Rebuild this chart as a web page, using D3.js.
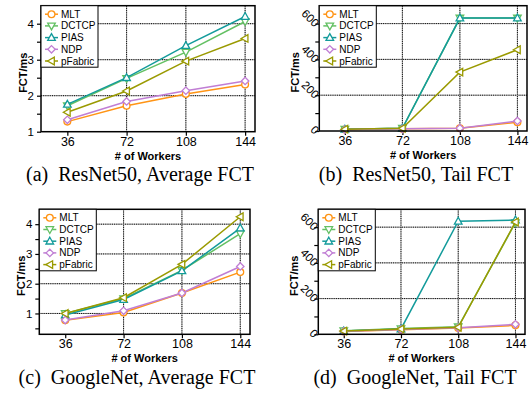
<!DOCTYPE html>
<html>
<head>
<meta charset="utf-8">
<script src="https://cdn.jsdelivr.net/npm/d3@7"></script>
<style>
  body { margin: 0; background: #fff; }
  svg { display: block; }
  .tick text { font-family: "Liberation Sans", Arial, sans-serif; }
</style>
</head>
<body>
<div id="chart"></div>
<script>
// x values shared by all four panels
const workers = [36, 72, 108, 144];
const methods = ["MLT", "DCTCP", "PIAS", "NDP", "pFabric"];
const colors = ["#ff9415", "#63c063", "#139b9b", "#c07ed4", "#9a9a00"];
const symbols = ["circle", "down", "up", "diamond", "left"];

// one row per method, same order as `methods`
const resnetAvg = [
  [1.28, 1.72, 2.05, 2.31],
  [1.72, 2.48, 3.21, 4.06],
  [1.76, 2.50, 3.39, 4.20],
  [1.33, 1.84, 2.14, 2.41],
  [1.54, 2.13, 2.96, 3.59]
];
const resnetTail = [
  [8, 12, 15, 49],
  [10, 15, 631, 631],
  [10, 15, 631, 631],
  [8, 12, 16, 56],
  [10, 15, 329, 454]
];
const googleAvg = [
  [0.77, 1.03, 1.69, 2.39],
  [1.00, 1.50, 2.45, 3.68],
  [0.95, 1.47, 2.43, 3.87],
  [0.78, 1.09, 1.69, 2.58],
  [1.00, 1.53, 2.65, 4.25]
];
const googleTail = [
  [16, 25, 35, 50],
  [20, 32, 42, 625],
  [18, 30, 633, 640],
  [17, 27, 36, 56],
  [18, 30, 39, 629]
];

const avgTicksA = [1, 2, 3, 4], avgMinorA = [1.5, 2.5, 3.5];
const avgTicksC = [1, 2, 3, 4], avgMinorC = [0.5, 1.5, 2.5, 3.5];
const tailTicks = [0, 200, 400, 600], tailMinor = [100, 300, 500];
const gridX = [72, 108, 144];

const captions = [
  "(a)\u2002ResNet50, Average FCT",
  "(b)\u2002ResNet50, Tail FCT",
  "(c)\u2002GoogleNet, Average FCT",
  "(d)\u2002GoogleNet, Tail FCT"
];

const W = 531, H = 393;
const svg = d3.select("#chart").append("svg").attr("width", W).attr("height", H);

const panels = [
  { box: [41, 255, 5.7, 131.7], data: resnetAvg, yd: [1, 4.5], ticks: avgTicksA, minor: avgMinorA, rot: false, cap: captions[0], capX: 140, capY: 180.5 },
  { box: [319.3, 527, 5.7, 131], data: resnetTail, yd: [0, 700], ticks: tailTicks, minor: tailMinor, rot: true, cap: captions[1], capX: 416, capY: 180.5 },
  { box: [39.3, 250, 209.3, 334.3], data: googleAvg, yd: [0.3, 4.5], ticks: avgTicksC, minor: avgMinorC, rot: false, cap: captions[2], capX: 137, capY: 383.5 },
  { box: [318.3, 525, 209.3, 334.3], data: googleTail, yd: [0, 700], ticks: tailTicks, minor: tailMinor, rot: true, cap: captions[3], capX: 415, capY: 383.5 }
];

function marker(sel, type, color) {
  const r = 3.4;
  if (type === "circle") {
    sel.append("circle").attr("r", r);
  } else {
    let pts;
    if (type === "up") pts = [[0, -r - 0.6], [r + 0.4, r - 0.6], [-r - 0.4, r - 0.6]];
    if (type === "down") pts = [[0, r + 0.6], [r + 0.4, -r + 0.6], [-r - 0.4, -r + 0.6]];
    if (type === "left") pts = [[-r - 0.6, 0], [r - 0.6, -r - 0.4], [r - 0.6, r + 0.4]];
    if (type === "diamond") pts = [[0, -r - 0.3], [r + 0.3, 0], [0, r + 0.3], [-r - 0.3, 0]];
    sel.append("polygon").attr("points", pts.map(p => p.join(",")).join(" "));
  }
  sel.selectAll("*").attr("fill", "#fff").attr("stroke", color).attr("stroke-width", 1.3);
}

panels.forEach(p => {
  const [x0, x1, y0, y1] = p.box;
  const x = d3.scaleLinear().domain([20, 150]).range([x0, x1]);
  const y = d3.scaleLinear().domain(p.yd).range([y1, y0]);
  const g = svg.append("g");

  // grid
  const gridY = p.ticks.filter(t => y(t) < y1 - 1);
  gridY.forEach(t => {
    g.append("line").attr("x1", x0).attr("x2", x1).attr("y1", y(t)).attr("y2", y(t))
      .attr("stroke", "#aaa").attr("stroke-width", 1);
    g.append("line").attr("x1", x0).attr("x2", x1).attr("y1", y(t)).attr("y2", y(t))
      .attr("stroke", "#000").attr("stroke-width", 1).attr("stroke-dasharray", "1,1.2");
  });
  gridX.forEach(t => {
    g.append("line").attr("x1", x(t)).attr("x2", x(t)).attr("y1", y0).attr("y2", y1)
      .attr("stroke", "#aaa").attr("stroke-width", 1);
    g.append("line").attr("x1", x(t)).attr("x2", x(t)).attr("y1", y0).attr("y2", y1)
      .attr("stroke", "#000").attr("stroke-width", 1).attr("stroke-dasharray", "1,1.2");
  });

  // axes
  const xAxis = g.append("g").attr("transform", `translate(0,${y1})`)
    .call(d3.axisBottom(x).tickValues(workers).tickSize(4).tickPadding(1));
  xAxis.select(".domain").remove();
  xAxis.selectAll(".tick line").attr("stroke", "#000").attr("stroke-width", 1.2);
  xAxis.selectAll(".tick text").attr("font-size", 12.5).attr("fill", "#000");

  const yMinor = g.append("g").attr("transform", `translate(${x0},0)`)
    .call(d3.axisLeft(y).tickValues(p.minor).tickSize(4).tickFormat(""));
  yMinor.select(".domain").remove();
  yMinor.selectAll(".tick line").attr("stroke", "#000").attr("stroke-width", 1.2);

  const yAxis = g.append("g").attr("transform", `translate(${x0},0)`)
    .call(d3.axisLeft(y).tickValues(p.ticks).tickSize(4).tickPadding(3).tickFormat(d3.format("d")));
  yAxis.select(".domain").remove();
  yAxis.selectAll(".tick line").attr("stroke", "#000").attr("stroke-width", 1.2);
  yAxis.selectAll(".tick text").attr("font-size", 11.5).attr("fill", "#000");
  if (p.rot) {
    yAxis.selectAll(".tick text")
      .attr("x", -3).attr("dy", "0.1em")
      .attr("transform", "rotate(45,-7,0)");
  }

  // lines + markers
  const line = d3.line().x((d, i) => x(workers[i])).y(d => y(d));
  p.data.forEach((row, k) => {
    g.append("path").datum(row).attr("d", line)
      .attr("fill", "none").attr("stroke", colors[k]).attr("stroke-width", 1.5);
    row.forEach((v, i) => {
      const m = g.append("g").attr("transform", `translate(${x(workers[i])},${y(v)})`);
      marker(m, symbols[k], colors[k]);
    });
  });

  // frame
  g.append("rect").attr("x", x0).attr("y", y0).attr("width", x1 - x0).attr("height", y1 - y0)
    .attr("fill", "none").attr("stroke", "#000").attr("stroke-width", 1.5);

  // legend
  const lg = g.append("g").attr("transform", `translate(${x0},${y0})`);
  lg.append("rect").attr("x", 0).attr("y", 0).attr("width", 57).attr("height", 61.5)
    .attr("fill", "#fff").attr("stroke", "#000").attr("stroke-width", 1);
  methods.forEach((m, k) => {
    const ly = 8.5 + k * 11.7;
    lg.append("line").attr("x1", 4).attr("x2", 17).attr("y1", ly).attr("y2", ly)
      .attr("stroke", colors[k]).attr("stroke-width", 1.5);
    const mk = lg.append("g").attr("transform", `translate(10.5,${ly})`);
    marker(mk, symbols[k], colors[k]);
    lg.append("text").attr("x", 20).attr("y", ly + 3.6)
      .attr("font-family", "Liberation Sans, Arial, sans-serif").attr("font-size", 10)
      .text(m);
  });

  // axis titles
  g.append("text").attr("x", (x0 + x1) / 2).attr("y", y1 + 28).attr("text-anchor", "middle")
    .attr("font-family", "Liberation Sans, Arial, sans-serif").attr("font-size", 11).attr("font-weight", "bold")
    .text("# of Workers");
  const lx = p.rot ? x0 - 20 : x0 - 14;
  g.append("text").attr("transform", `translate(${lx},${(y0 + y1) / 2 + 4}) rotate(-90)`)
    .attr("text-anchor", "middle")
    .attr("font-family", "Liberation Sans, Arial, sans-serif").attr("font-size", 11).attr("font-weight", "bold")
    .text("FCT/ms");

  // caption
  g.append("text").attr("x", p.capX).attr("y", p.capY).attr("text-anchor", "middle")
    .attr("font-family", "Liberation Serif, Times New Roman, serif").attr("font-size", 20)
    .text(p.cap);
});
</script>
</body>
</html>
